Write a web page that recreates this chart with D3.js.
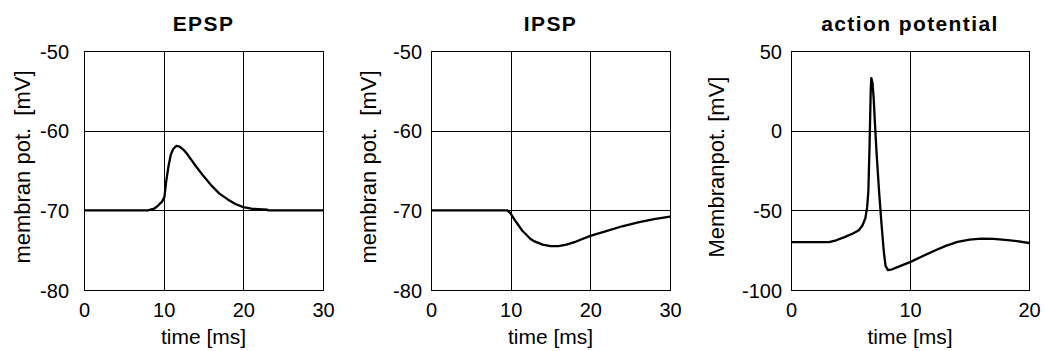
<!DOCTYPE html>
<html>
<head>
<meta charset="utf-8">
<script src="https://cdn.jsdelivr.net/npm/d3@7"></script>
<style>
  html, body { margin: 0; padding: 0; background: #fff; }
  svg { display: block; }
  text { font-family: "Liberation Sans", Arial, sans-serif; fill: #000; }
</style>
</head>
<body>
<svg id="chart" width="1045" height="351"></svg>
<script>
// ---- data ----
const titles = ["EPSP", "IPSP", "action potential"];
const yLabels = ["membran pot.  [mV]", "membran pot.  [mV]", "Membranpot. [mV]"];
const xLabel = "time [ms]";

const epspTime = [0, 8, 8.8, 9.3, 9.8, 10.1, 10.3, 10.6, 10.9, 11.2, 11.6, 12.0, 12.5, 13, 14, 15, 16, 17, 18, 19, 20, 21, 23, 23.1, 30];
const epspV    = [-70, -70, -69.8, -69.4, -68.9, -68.3, -66.5, -64.5, -63, -62.3, -61.9, -62.0, -62.4, -63.0, -64.4, -65.7, -66.9, -67.9, -68.6, -69.2, -69.6, -69.8, -69.9, -70, -70];

const ipspTime = [0, 9.6, 10, 10.5, 11, 11.5, 12, 12.5, 13, 14, 15, 16, 17, 18, 19, 20, 22, 24, 26, 28, 30];
const ipspV    = [-70, -70, -70.4, -71.2, -71.9, -72.6, -73.1, -73.6, -73.9, -74.3, -74.5, -74.5, -74.3, -74.0, -73.6, -73.2, -72.6, -72.0, -71.5, -71.1, -70.8];

const apTime = [0, 3.2, 3.8, 4.5, 5.2, 5.7, 6.0, 6.25, 6.4, 6.5, 6.6, 6.7, 6.75, 6.85, 6.95, 7.05, 7.2, 7.4, 7.6, 7.8, 7.95, 8.15, 8.5, 9, 10, 11, 12, 13, 14, 15, 16, 17, 18, 19, 20];
const apV    = [-70, -70, -68.8, -66.8, -64.5, -62.5, -59.5, -55, -48, -38, -10, 25, 33, 30, 20, 5, -15, -38, -58, -76, -85, -87.5, -87, -85.5, -82.5, -79, -75.5, -72.3, -69.8, -68.4, -67.8, -67.9, -68.6, -69.3, -70.5];

const xTicks30 = [0, 10, 20, 30];
const xTicks20 = [0, 10, 20];
const yTicksPSP = [-80, -70, -60, -50];
const yTicksAP = [-100, -50, 0, 50];

// ---- layout ----
const panels = [
  { title: titles[0], ylab: yLabels[0], t: epspTime, v: epspV, xd: [0, 30], yd: [-80, -50], xt: xTicks30, yt: yTicksPSP,
    x0: 84, x1: 323, tickGap: 15, labX: 22 },
  { title: titles[1], ylab: yLabels[1], t: ipspTime, v: ipspV, xd: [0, 30], yd: [-80, -50], xt: xTicks30, yt: yTicksPSP,
    x0: 431, x1: 670, tickGap: 9, labX: 368 },
  { title: titles[2], ylab: yLabels[2], t: apTime, v: apV, xd: [0, 20], yd: [-100, 50], xt: xTicks20, yt: yTicksAP,
    x0: 791, x1: 1029, tickGap: 9, labX: 716 }
];
const plotTop = 51, plotBottom = 290;
const fmt = d => String(d);

const svg = d3.select("#chart");
svg.append("rect").attr("width", 1045).attr("height", 351).attr("fill", "#fff");

panels.forEach(p => {
  const x = d3.scaleLinear().domain(p.xd).range([p.x0, p.x1]);
  const y = d3.scaleLinear().domain(p.yd).range([plotBottom, plotTop]);
  const g = svg.append("g");

  // grid lines (interior ticks)
  g.selectAll(".vg").data(p.xt.slice(1, -1)).enter().append("line")
    .attr("x1", d => Math.round(x(d)) + 0.5).attr("x2", d => Math.round(x(d)) + 0.5)
    .attr("y1", plotTop).attr("y2", plotBottom)
    .attr("stroke", "#000").attr("stroke-width", 1);
  g.selectAll(".hg").data(p.yt.slice(1, -1)).enter().append("line")
    .attr("y1", d => Math.round(y(d)) + 0.5).attr("y2", d => Math.round(y(d)) + 0.5)
    .attr("x1", p.x0).attr("x2", p.x1)
    .attr("stroke", "#000").attr("stroke-width", 1);

  // frame
  g.append("rect")
    .attr("x", p.x0 + 0.5).attr("y", plotTop + 0.5)
    .attr("width", p.x1 - p.x0).attr("height", plotBottom - plotTop)
    .attr("fill", "none").attr("stroke", "#000").attr("stroke-width", 1);

  // axes via d3 axis (labels only)
  const xAxis = d3.axisBottom(x).tickValues(p.xt).tickSize(0).tickPadding(0).tickFormat(fmt);
  const xg = g.append("g").attr("transform", `translate(0,${plotBottom})`).call(xAxis);
  xg.select(".domain").remove();
  xg.selectAll("text").attr("font-size", 20).attr("font-family", "Liberation Sans, Arial, sans-serif")
    .attr("y", 27).attr("dy", 0).attr("fill", "#000");

  const yAxis = d3.axisLeft(y).tickValues(p.yt).tickSize(0).tickPadding(p.tickGap).tickFormat(fmt);
  const yg = g.append("g").attr("transform", `translate(${p.x0},0)`).call(yAxis);
  yg.select(".domain").remove();
  yg.selectAll("text").attr("font-size", 20).attr("font-family", "Liberation Sans, Arial, sans-serif")
    .attr("dy", "0.35em").attr("fill", "#000");

  // curve
  const pts = p.t.map((t, i) => [t, p.v[i]]);
  g.append("path").datum(pts)
    .attr("d", d3.line().x(d => x(d[0])).y(d => y(d[1])))
    .attr("fill", "none").attr("stroke", "#000").attr("stroke-width", 2.3)
    .attr("stroke-linejoin", "round");

  // title
  g.append("text").attr("x", (p.x0 + p.x1) / 2).attr("y", 31)
    .attr("text-anchor", "middle").attr("font-size", 21).attr("font-weight", "bold")
    .attr("letter-spacing", "1.4px").text(p.title);

  // x label
  g.append("text").attr("x", (p.x0 + p.x1) / 2).attr("y", 344)
    .attr("text-anchor", "middle").attr("font-size", 21).text(xLabel);

  // y label
  g.append("text").attr("transform", `translate(${p.labX},167) rotate(-90)`)
    .attr("text-anchor", "middle").attr("dy", "0.35em")
    .attr("font-size", 22).style("white-space", "pre").text(p.ylab);
});
</script>
</body>
</html>
